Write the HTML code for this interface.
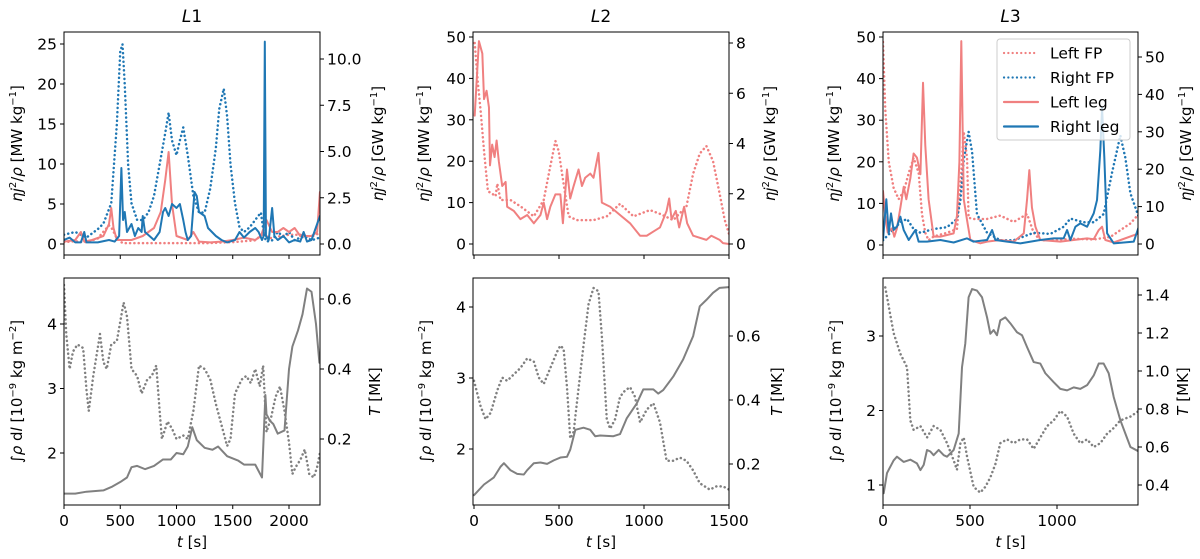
<!DOCTYPE html>
<html><head><meta charset="utf-8"><style>
html,body{margin:0;padding:0;background:#fff;}
svg{display:block;font-family:"DejaVu Sans","Liberation Sans",sans-serif;}
</style></head><body>
<svg id="fig" width="1200" height="559" viewBox="0 0 1200 559" xmlns="http://www.w3.org/2000/svg"></svg>
<script>
// ---------- data ----------
// Panel L1 top
const l1RightFpT=[0,100,200,300,350,420,470,500,520,540,570,600,650,700,750,800,850,900,930,960,1000,1030,1060,1100,1150,1200,1250,1300,1350,1380,1420,1450,1480,1520,1560,1600,1650,1700,1750,1780,1800,1850,1900,1950,2000,2050,2100,2150,2200,2275];
const l1RightFpV=[0.5,0.65,0.35,0.8,1.1,2.2,6.5,10.4,10.8,8.6,4.3,2.2,1.3,1.3,1.7,2.6,4.3,6.0,7.1,5.6,4.8,5.6,6.3,4.8,2.6,1.7,1.7,3.0,5.2,7.3,8.4,6.9,4.3,2.2,0.9,0.65,0.9,1.3,1.7,0.4,0.13,0.2,0.65,0.4,0.65,0.2,0.35,0.4,0.2,0.35];
const l1LeftFpT=[0,100,200,300,370,400,430,470,520,700,900,1100,1300,1500,1700,1780,1820,1900,2000,2100,2200,2275];
const l1LeftFpV=[0.1,0.15,0.1,0.3,0.8,1.0,0.8,0.3,0.05,0.05,0.05,0.05,0.05,0.1,0.2,0.6,0.3,0.4,0.5,0.5,0.4,0.6];
const l1LeftLegT=[0,100,150,180,250,350,400,420,440,470,500,600,700,800,860,900,930,960,1000,1100,1150,1200,1300,1400,1500,1600,1700,1750,1800,1850,1900,1950,2000,2050,2100,2200,2250,2275];
const l1LeftLegV=[0.3,0.5,1.5,0.3,0.5,1,2.5,4.5,2,0.5,0.5,0.5,1,2,4,8,11.5,5,1,0.5,1.5,0.3,0.2,0.3,0.5,0.8,0.5,1,3,1.5,1.5,2,1.5,2,1,1,1.5,6.5];
const l1RightLegT=[0,50,100,150,180,200,300,400,450,490,510,525,540,560,600,630,660,690,700,720,760,800,850,880,900,930,960,1000,1030,1060,1080,1100,1130,1160,1180,1200,1250,1280,1350,1400,1450,1520,1560,1600,1650,1700,1730,1760,1775,1785,1795,1820,1850,1870,1900,1950,2000,2050,2100,2130,2160,2200,2250,2275];
const l1RightLegV=[0.5,0.8,0.2,0.2,1.5,0.2,0.2,0.5,0.3,1,9.5,3,4,1.5,2.5,1,2,1.5,3.5,1.5,1,0.5,1.5,4,4.5,3.5,5,4.5,5,3,1.5,0.5,1,6.5,6,4,3.5,2,1,0.5,0.2,0.5,1.5,0.8,1.5,2,1.5,0.5,1,25.3,1,0.5,4.5,1,0.5,1,0.2,0.5,0.3,1.5,0.3,0.5,2.5,3.5];
// Panel L1 bottom
const l1DensT=[0,100,200,350,430,500,560,600,650,720,800,880,950,1000,1060,1100,1140,1180,1250,1320,1370,1450,1550,1600,1700,1760,1790,1800,1830,1860,1900,1960,2000,2030,2080,2120,2160,2200,2240,2270];
const l1DensV=[1.37,1.37,1.4,1.42,1.48,1.55,1.62,1.78,1.8,1.75,1.8,1.9,1.9,2.0,1.98,2.1,2.4,2.2,2.08,2.05,2.1,1.95,1.88,1.82,1.82,1.62,2.9,2.6,2.5,2.45,2.3,2.35,3.3,3.65,3.9,4.15,4.55,4.5,4.0,3.4];
const l1TempT=[0,20,50,80,120,170,200,220,260,320,350,380,420,470,530,560,600,650,690,740,780,820,850,870,920,960,1000,1060,1100,1150,1200,1250,1300,1350,1400,1450,1480,1520,1580,1620,1660,1700,1740,1770,1800,1840,1880,1920,1960,2000,2030,2060,2100,2140,2180,2220,2250,2275];
const l1TempV=[0.64,0.5,0.4,0.45,0.47,0.46,0.34,0.28,0.38,0.5,0.42,0.4,0.47,0.48,0.59,0.55,0.4,0.38,0.33,0.37,0.38,0.41,0.28,0.2,0.25,0.23,0.2,0.21,0.2,0.28,0.41,0.4,0.37,0.3,0.24,0.18,0.2,0.33,0.37,0.38,0.36,0.4,0.35,0.41,0.22,0.26,0.32,0.35,0.28,0.19,0.1,0.12,0.14,0.17,0.1,0.09,0.12,0.16];
// Panel L2 top
const l2LeftLegT=[4,29,49,59,74,88,94,107,121,133,146,166,186,195,234,273,313,352,391,410,430,449,479,508,523,547,566,586,615,635,654,684,703,732,752,801,859,918,977,1016,1055,1094,1133,1148,1162,1187,1207,1236,1254,1289,1367,1396,1445,1465,1500];
const l2LeftLegV=[31,49,46,35,37,33,19,24,21,25,20,14,15,9,8,6,7,5,7,10,6,9,12,12,5,18,11,14,18,14,16,17,16,22,10,9,7,5,2,2,3,4,8,11,6,8,4,9,5,2,1,2,1,0.2,0];
const l2LeftFpT=[4,23,39,59,82,107,127,137,156,215,273,352,410,449,479,498,527,557,605,703,781,859,938,1035,1094,1172,1250,1289,1328,1367,1406,1445,1475,1500];
const l2LeftFpV=[8.0,6.4,5.3,3.7,2.1,2.0,1.9,2.4,1.75,1.75,1.5,1.1,1.75,3.1,4.1,3.7,2.4,1.1,0.95,0.95,1.1,1.6,1.1,1.35,1.2,0.95,1.5,2.8,3.6,3.9,3.3,2.0,0.95,0.4];
// Panel L2 bottom
const l2DensT=[0,59,117,156,176,215,254,293,312,352,391,430,469,508,547,566,596,644,684,713,742,820,859,898,957,996,1055,1084,1113,1172,1230,1289,1328,1367,1406,1445,1500];
const l2DensV=[1.35,1.5,1.6,1.75,1.8,1.7,1.65,1.64,1.7,1.8,1.81,1.79,1.84,1.88,1.89,1.99,2.27,2.3,2.27,2.18,2.19,2.18,2.21,2.43,2.64,2.84,2.84,2.78,2.83,3.02,3.26,3.59,4.01,4.1,4.2,4.27,4.28];
const l2TempT=[0,39,68,98,137,166,195,234,273,313,352,381,410,449,488,508,527,547,566,586,605,644,674,703,732,752,781,801,830,859,889,918,947,977,1016,1055,1094,1133,1172,1211,1250,1289,1328,1387,1426,1465,1500];
const l2TempV=[0.46,0.38,0.34,0.36,0.43,0.47,0.46,0.48,0.5,0.53,0.52,0.47,0.45,0.5,0.55,0.57,0.56,0.44,0.28,0.3,0.39,0.57,0.7,0.75,0.74,0.6,0.34,0.31,0.34,0.41,0.43,0.44,0.41,0.33,0.37,0.39,0.33,0.21,0.21,0.22,0.21,0.18,0.14,0.12,0.13,0.13,0.12];
// Panel L3 top
const l3LeftLegT=[0,13,27,52,65,80,100,119,134,157,176,195,215,230,243,262,291,330,368,406,425,439,450,464,483,502,559,598,674,751,809,828,841,856,876,904,1019,1096,1173,1211,1240,1259,1278,1326,1470];
const l3LeftLegV=[13,7,3,4,2,4,9,14,11,16,22,21,17,39,24,11,2,2,2.4,2.8,7,20,49,11,6,1.2,0.4,0.8,1.2,0.8,2.8,11,18,9,4.4,1.2,0.8,1.2,1.6,1.4,3.6,4.4,1.2,0.6,2.8];
const l3RightLegT=[0,19,33,46,61,80,100,119,148,186,205,253,330,406,483,521,598,627,646,713,789,904,981,1038,1058,1077,1106,1134,1173,1211,1230,1249,1259,1272,1288,1326,1441,1470];
const l3RightLegV=[1.2,11,2.8,7.6,3.6,4.4,6.8,3.6,1.2,3.6,0.8,0.8,1.2,0.6,1.6,0.8,1.2,3.6,1.2,0.8,0.4,1.2,1.6,1.6,3.6,1.2,4.4,5.2,4.4,7.6,10.8,22.8,33,21,2.8,0.4,0.8,4.4];
const l3LeftFpT=[0,13,33,61,90,119,148,176,205,224,243,262,291,368,425,445,464,483,492,521,598,674,751,828,866,904,981,1096,1211,1307,1364,1422,1470];
const l3LeftFpV=[54,36,22,15,12,14,19,23,19,8,3,1,2,3,4,15.6,30,23,7,6.7,6.7,7.6,5.9,8,3,1,1,1.4,1.2,1.9,3.7,5.5,8];
const l3RightFpT=[0,42,100,138,176,215,291,368,425,445,464,492,512,540,598,674,751,866,962,1038,1077,1153,1211,1268,1316,1364,1393,1422,1470];
const l3RightFpV=[1,3,5.8,6.7,4,3,4,4.5,6.7,11.7,22.5,30,24.6,8,3,1,1,3,2.7,4.6,6.8,5.8,5.8,8,19,29,23,13.5,7.2];
// Panel L3 bottom
const l3DensT=[4,23,61,80,119,157,195,215,234,253,272,291,320,349,368,406,435,454,473,492,512,540,569,598,617,636,655,674,703,732,770,799,828,866,904,933,981,1019,1058,1096,1134,1173,1211,1240,1268,1297,1326,1364,1393,1422,1470];
const l3DensV=[0.89,1.16,1.33,1.38,1.31,1.34,1.29,1.2,1.27,1.47,1.45,1.4,1.47,1.4,1.38,1.47,1.69,2.58,2.9,3.52,3.63,3.61,3.52,3.25,3.03,3.08,3.01,3.21,3.25,3.17,3.05,3.01,2.85,2.65,2.63,2.5,2.38,2.29,2.27,2.31,2.29,2.34,2.47,2.63,2.63,2.5,2.18,1.87,1.69,1.51,1.45];
const l3TempT=[13,33,61,100,138,157,176,215,253,291,330,368,406,425,445,464,483,521,559,588,617,646,674,713,751,789,828,866,904,943,981,1019,1058,1096,1134,1173,1211,1249,1288,1326,1364,1422,1470];
const l3TempV=[1.44,1.34,1.2,1.09,1.02,0.74,0.69,0.71,0.65,0.71,0.69,0.62,0.53,0.48,0.62,0.65,0.55,0.39,0.36,0.39,0.44,0.51,0.62,0.64,0.62,0.64,0.64,0.59,0.65,0.71,0.74,0.79,0.76,0.67,0.62,0.64,0.6,0.62,0.67,0.7,0.74,0.76,0.79];
// tick labels
const l1XTicks=[0,500,1000,1500,2000];
const l2XTicks=[0,500,1000,1500];
const l3XTicks=[0,500,1000];
const l1TopLeftTicks=[0,5,10,15,20,25];
const l1TopRightTicks=["0.0","2.5","5.0","7.5","10.0"];
const l2TopLeftTicks=[0,10,20,30,40,50];
const l2TopRightTicks=["0","2","4","6","8"];
const l3TopLeftTicks=[0,10,20,30,40,50];
const l3TopRightTicks=["0","10","20","30","40","50"];
const l1BotLeftTicks=[2,3,4];
const l1BotRightTicks=["0.2","0.4","0.6"];
const l2BotLeftTicks=[2,3,4];
const l2BotRightTicks=["0.2","0.4","0.6"];
const l3BotLeftTicks=[1,2,3];
const l3BotRightTicks=["0.4","0.6","0.8","1.0","1.2","1.4"];

// ---------- drawing ----------
const NS="http://www.w3.org/2000/svg";
const svg=document.getElementById('fig');
function el(tag,attrs,parent){const e=document.createElementNS(NS,tag);for(const k in attrs)e.setAttribute(k,attrs[k]);(parent||svg).appendChild(e);return e;}
function lin(v1,p1,v2,p2){const k=(p2-p1)/(v2-v1);return v=>p1+(v-v1)*k;}
const RED="#f08080",BLUE="#1f77b4",GRAY="#808080";
const TF=15.5, LF=15;

function drawLine(g,ts,vs,sx,sy,color,dotted,name){
  const d=ts.map((t,i)=>(i?'L':'M')+sx(t).toFixed(2)+','+sy(vs[i]).toFixed(2)).join('');
  const p=el('path',{d:d,fill:'none',stroke:color,'stroke-width':dotted?2.5:2,'stroke-linejoin':'round','stroke-linecap':'round'},g);
  if(dotted)p.setAttribute('stroke-dasharray','0.1,4.2');
  
  
}

function panel(cfg){
  const g=el('g',{});
  
  
  const clipId=cfg.name+'-clip';
  const cp=el('clipPath',{id:clipId},g);
  el('rect',{x:cfg.x0,y:cfg.y0,width:cfg.x1-cfg.x0,height:cfg.y1-cfg.y0},cp);
  const lg=el('g',{'clip-path':'url(#'+clipId+')'},g);
  cfg.series.forEach(s=>drawLine(lg,s.t,s.v,cfg.sx,s.right?cfg.syR:cfg.syL,s.color,s.dotted,s.name));
  const fr=el('rect',{x:cfg.x0,y:cfg.y0,width:cfg.x1-cfg.x0,height:cfg.y1-cfg.y0,fill:'none',stroke:'#000','stroke-width':1},g);
  
  
  cfg.xticks.forEach(t=>{const x=cfg.sx(t);el('line',{x1:x,x2:x,y1:cfg.y1,y2:cfg.y1+4,stroke:'#000'},g);
    if(cfg.xlabels){const tx=el('text',{x:x,y:cfg.y1+21,'font-size':TF,'text-anchor':'middle',fill:'#000'},g);tx.textContent=t;
      }});
  cfg.lticks.forEach(t=>{const y=cfg.syL(t);el('line',{x1:cfg.x0-4,x2:cfg.x0,y1:y,y2:y,stroke:'#000'},g);
    const tx=el('text',{x:cfg.x0-7,y:y+5.5,'font-size':TF,'text-anchor':'end',fill:'#000'},g);tx.textContent=t;
    });
  cfg.rticks.forEach(t=>{const y=cfg.syR(parseFloat(t));el('line',{x1:cfg.x1,x2:cfg.x1+4,y1:y,y2:y,stroke:'#000'},g);
    const tx=el('text',{x:cfg.x1+7,y:y+5.5,'font-size':TF,'text-anchor':'start',fill:'#000'},g);tx.textContent=t;
    });
  const cy=(cfg.y0+cfg.y1)/2;
  const ll=el('text',{x:0,y:0,'font-size':LF,'text-anchor':'middle',transform:`translate(${cfg.lLabelX},${cy}) rotate(-90)`},g);
  ll.innerHTML=cfg.lLabel;
  const rl=el('text',{x:0,y:0,'font-size':LF,'text-anchor':'middle',transform:`translate(${cfg.rLabelX},${cy}) rotate(-90)`},g);
  rl.innerHTML=cfg.rLabel;
  if(cfg.xlabels){const xl=el('text',{x:(cfg.x0+cfg.x1)/2,y:cfg.y1+42,'font-size':LF,'text-anchor':'middle'},g);
    xl.innerHTML='<tspan font-style="italic">t</tspan> [s]';}
  if(cfg.title){const tt=el('text',{x:(cfg.x0+cfg.x1)/2,y:22,'font-size':17,'text-anchor':'middle'},g);
    tt.innerHTML='<tspan font-style="italic">L</tspan>'+cfg.title;}
}
const topL='<tspan font-style="italic">ηj</tspan><tspan font-size="10" dy="-6">2</tspan><tspan dy="6">/</tspan><tspan font-style="italic">ρ</tspan> [MW kg<tspan font-size="10" dy="-6">−1</tspan><tspan dy="6">]</tspan>';
const topR='<tspan font-style="italic">ηj</tspan><tspan font-size="10" dy="-6">2</tspan><tspan dy="6">/</tspan><tspan font-style="italic">ρ</tspan> [GW kg<tspan font-size="10" dy="-6">−1</tspan><tspan dy="6">]</tspan>';
const botL='∫<tspan font-style="italic">ρ</tspan> d<tspan font-style="italic">l</tspan> [10<tspan font-size="10" dy="-6">−9</tspan><tspan dy="6"> kg m</tspan><tspan font-size="10" dy="-6">−2</tspan><tspan dy="6">]</tspan>';
const botR='<tspan font-style="italic">T</tspan> [MK]';

// L1
{const sx=lin(0,64,2000,289);
panel({name:'l1-top',x0:64,x1:320,y0:32,y1:255,sx,syL:lin(0,244,25,44),syR:lin(0,244,10,59),xticks:l1XTicks,xlabels:false,lticks:l1TopLeftTicks,rticks:l1TopRightTicks,lLabel:topL,rLabel:topR,lLabelX:22,rLabelX:383,title:'1',
 series:[{t:l1LeftFpT,v:l1LeftFpV,right:true,color:RED,dotted:true,name:'l1-left-fp'},{t:l1RightFpT,v:l1RightFpV,right:true,color:BLUE,dotted:true,name:'l1-right-fp'},
 {t:l1LeftLegT,v:l1LeftLegV,color:RED,name:'l1-left-leg'},{t:l1RightLegT,v:l1RightLegV,color:BLUE,name:'l1-right-leg'}]});
panel({name:'l1-bottom',x0:64,x1:320,y0:278,y1:505,sx,syL:lin(2,453,4,324),syR:lin(0.2,439,0.6,299),xticks:l1XTicks,xlabels:true,lticks:l1BotLeftTicks,rticks:l1BotRightTicks,lLabel:botL,rLabel:botR,lLabelX:22,rLabelX:380,
 series:[{t:l1TempT,v:l1TempV,right:true,color:GRAY,dotted:true,name:'l1-temperature'},{t:l1DensT,v:l1DensV,color:GRAY,name:'l1-column-density'}]});}
// L2
{const sx=lin(0,474,1500,729);
panel({name:'l2-top',x0:473,x1:729,y0:32,y1:255,sx,syL:lin(0,244,50,37),syR:lin(0,244,8,43),xticks:l2XTicks,xlabels:false,lticks:l2TopLeftTicks,rticks:l2TopRightTicks,lLabel:topL,rLabel:topR,lLabelX:429,rLabelX:775,title:'2',
 series:[{t:l2LeftFpT,v:l2LeftFpV,right:true,color:RED,dotted:true,name:'l2-left-fp'},{t:l2LeftLegT,v:l2LeftLegV,color:RED,name:'l2-left-leg'}]});
panel({name:'l2-bottom',x0:473,x1:729,y0:278,y1:505,sx,syL:lin(2,449,4,307),syR:lin(0.2,464,0.6,336),xticks:l2XTicks,xlabels:true,lticks:l2BotLeftTicks,rticks:l2BotRightTicks,lLabel:botL,rLabel:botR,lLabelX:431,rLabelX:782,
 series:[{t:l2TempT,v:l2TempV,right:true,color:GRAY,dotted:true,name:'l2-temperature'},{t:l2DensT,v:l2DensV,color:GRAY,name:'l2-column-density'}]});}
// L3
{const sx=lin(0,883,1000,1057);
panel({name:'l3-top',x0:883,x1:1138,y0:32,y1:255,sx,syL:lin(0,245,50,37),syR:lin(0,244,50,57),xticks:l3XTicks,xlabels:false,lticks:l3TopLeftTicks,rticks:l3TopRightTicks,lLabel:topL,rLabel:topR,lLabelX:839,rLabelX:1191,title:'3',
 series:[{t:l3LeftFpT,v:l3LeftFpV,right:true,color:RED,dotted:true,name:'l3-left-fp'},{t:l3RightFpT,v:l3RightFpV,right:true,color:BLUE,dotted:true,name:'l3-right-fp'},
 {t:l3LeftLegT,v:l3LeftLegV,color:RED,name:'l3-left-leg'},{t:l3RightLegT,v:l3RightLegV,color:BLUE,name:'l3-right-leg'}]});
panel({name:'l3-bottom',x0:883,x1:1138,y0:278,y1:505,sx,syL:lin(1,485,3,336),syR:lin(0.4,485,1.4,295),xticks:l3XTicks,xlabels:true,lticks:l3BotLeftTicks,rticks:l3BotRightTicks,lLabel:botL,rLabel:botR,lLabelX:841,rLabelX:1188,
 series:[{t:l3TempT,v:l3TempV,right:true,color:GRAY,dotted:true,name:'l3-temperature'},{t:l3DensT,v:l3DensV,color:GRAY,name:'l3-column-density'}]});}

// legend
const leg=el('g',{});


el('rect',{x:997,y:39,width:133,height:101,rx:3,fill:'#fff','fill-opacity':0.8,stroke:'#ccc'},leg);
const legNames=['Left FP','Right FP','Left leg','Right leg'];
const legColors=[RED,BLUE,RED,BLUE];
const legDotted=[true,true,false,false];
legNames.forEach((n,i)=>{const y=53+i*24.5;
  const ln=el('line',{x1:1004,x2:1038,y1:y,y2:y,stroke:legColors[i],'stroke-width':2.2,'stroke-linecap':'round'},leg);
  if(legDotted[i])ln.setAttribute('stroke-dasharray','0.1,4.2');
  const tx=el('text',{x:1050,y:y+5.5,'font-size':15.5},leg);tx.textContent=n;
  
  
});
</script>
</body></html>
